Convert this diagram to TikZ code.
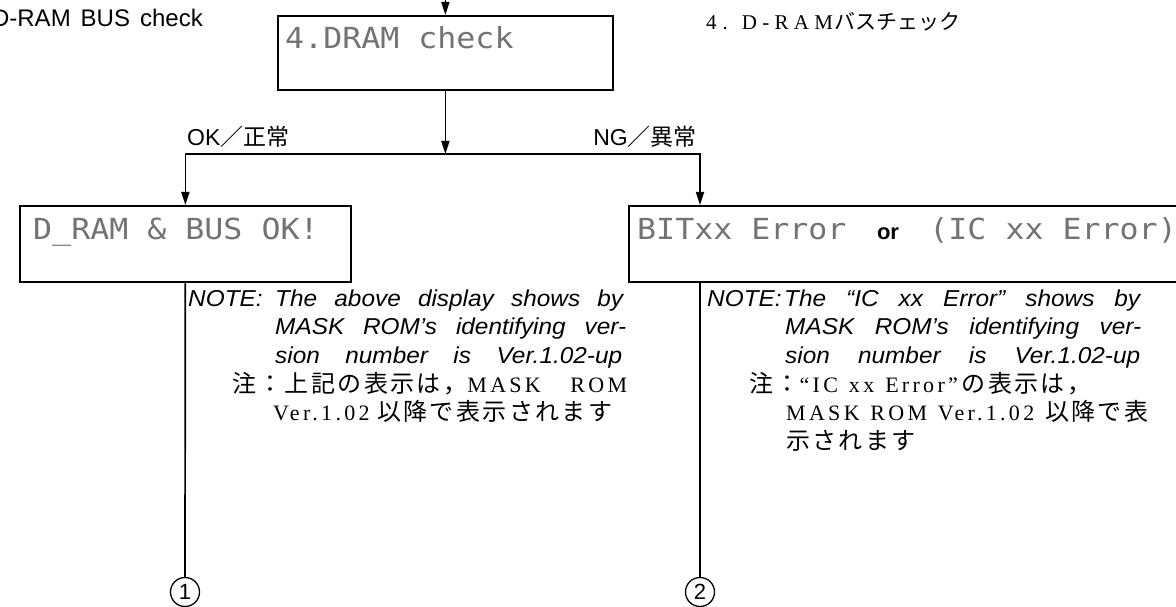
\documentclass[tikz,border=0pt]{standalone}
\usepackage{fontspec}
\usepackage{graphicx}
\usetikzlibrary{arrows.meta}
\setmainfont{Liberation Serif}
\setsansfont{Liberation Sans}
\newfontfamily\cjk{Noto Sans CJK JP}
\newfontfamily\cjkn[LetterSpace=10]{Noto Sans CJK JP}
\newfontfamily\lcd{DejaVu Sans Mono}
\newfontfamily\notefont[FakeStretch=1.06]{Liberation Sans}
\newfontfamily\jlat[LetterSpace=15]{Liberation Serif}
\newfontfamily\jlatw[LetterSpace=25]{Liberation Serif}
\newcommand\J[1]{{\cjk #1}}
\newcommand\Jn[1]{{\cjkn\fontsize{24}{24}\selectfont #1}}
\newcommand\lcdstr[1]{\scalebox{1.09}[1]{#1}}
\begin{document}
\begin{tikzpicture}[x=1pt,y=-1pt,
  conn/.style={line width=1.7pt, line join=miter},
  >={Triangle[length=13pt,width=8pt]},
  lcdframe/.style={draw, line width=1.7pt, inner sep=0, anchor=north west},
  lcdtxt/.style={font=\lcd\fontsize{29}{29}\selectfont, text=black!55, inner sep=0, anchor=base west},
  notetxt/.style={font=\notefont\itshape\fontsize{23}{23}\selectfont, inner sep=0, anchor=base west},
  jptxt/.style={font=\jlat\fontsize{22}{22}\selectfont, inner sep=0, anchor=base west},
  labtxt/.style={font=\sffamily\fontsize{23}{23}\selectfont, inner sep=0},
  circnum/.style={draw, circle, line width=1.3pt, minimum size=29pt, inner sep=0, font=\sffamily\fontsize{22}{22}\selectfont}]
\path[use as bounding box, clip] (0,0) rectangle (1176,607);
\fill[white] (0,0) rectangle (1176,607);

% headings
\node[labtxt, font=\sffamily\fontsize{24}{24}\selectfont, anchor=base east] (head) at (203,27) {D-RAM\hspace{10pt}BUS\hspace{10pt}check};
\node[jptxt, font=\jlatw\fontsize{21}{21}\selectfont] (headjp) at (706,30) {4\hspace{6pt}.\hspace{14pt}D-RAM\hspace{2pt}\J{バスチェック}};

% boxes
\node[lcdframe, minimum width=335pt, minimum height=74pt] (top) at (277,15) {};
\node[lcdtxt] (toptxt) at (285,49) {\lcdstr{4.DRAM check}};

\node[lcdframe, minimum width=331pt, minimum height=76pt] (okbox) at (19,205) {};
\node[lcdtxt] (oktxt) at (33,240) {\lcdstr{D\_RAM \& BUS OK!}};

\node[lcdframe, minimum width=560pt, minimum height=76pt] (ngbox) at (628,205) {};
\node[lcdtxt] (ngtxt1) at (637,240) {\lcdstr{BITxx Error}};
\node[font=\sffamily\bfseries\fontsize{22}{22}\selectfont, inner sep=0, anchor=base] (ortxt) at (888,240) {or};
\node[lcdtxt, anchor=base east] (ngtxt2) at (1177,240) {\lcdstr{(IC xx Error)}};

% connectors
\coordinate (topin) at ([yshift=15pt]top.north);
\coordinate (rb) at (700,154);
\coordinate (junc) at (top.south |- rb);
\draw[conn, ->] (topin) -- (top.north);
\draw[conn, ->] (top.south) -- (junc);
\draw[conn, <->] (okbox.north) |- (rb) -- (rb |- ngbox.north);

\node[labtxt, anchor=base west] (oklab) at (187,146) {OK\J{／正常}};
\node[labtxt, anchor=base east] (nglab) at (697,146) {NG\J{／異常}};

% circled numbers and lines
\node[circnum] (c1) at (185,592) {1};
\node[circnum] (c2) at (700,592) {2};
\draw[conn] (okbox.south) -- (c1.north);
\draw[conn] (rb |- ngbox.south) -- (c2.north);

% left note
\node[notetxt] (ln1a) at (188,306) {NOTE:};
\node[notetxt] (ln1b) at (275,306) {\makebox[348pt][s]{The above display shows by}};
\node[notetxt] (ln2) at (275,334.5) {\makebox[351pt][s]{MASK ROM’s identifying ver-}};
\node[notetxt] (ln3) at (275,363) {\makebox[347pt][s]{sion number is Ver.1.02-up}};
\node[jptxt] (lj1) at (232,392) {\makebox[395pt][s]{\Jn{注：上記の表示は，}MASK ROM}};
\node[jptxt] (lj2) at (273,420.5) {\makebox[339pt][s]{Ver.1.02 \Jn{以降で表示されます}}};

% right note
\node[notetxt] (rn1a) at (707,306) {NOTE:};
\node[notetxt] (rn1b) at (784,306) {\makebox[356pt][s]{The “IC xx Error” shows by}};
\node[notetxt] (rn2) at (785,334.5) {\makebox[356pt][s]{MASK ROM’s identifying ver-}};
\node[notetxt] (rn3) at (785,363) {\makebox[355pt][s]{sion number is Ver.1.02-up}};
\node[jptxt] (rj1) at (749,392) {\Jn{注：}“IC\enspace xx\enspace Error”\,\Jn{の表示は，}};
\node[jptxt] (rj2) at (786,420.5) {\makebox[362pt][s]{MASK ROM Ver.1.02 \Jn{以降で表}}};
\node[jptxt] (rj3) at (786,449) {\Jn{示されます}};
\end{tikzpicture}
\end{document}
